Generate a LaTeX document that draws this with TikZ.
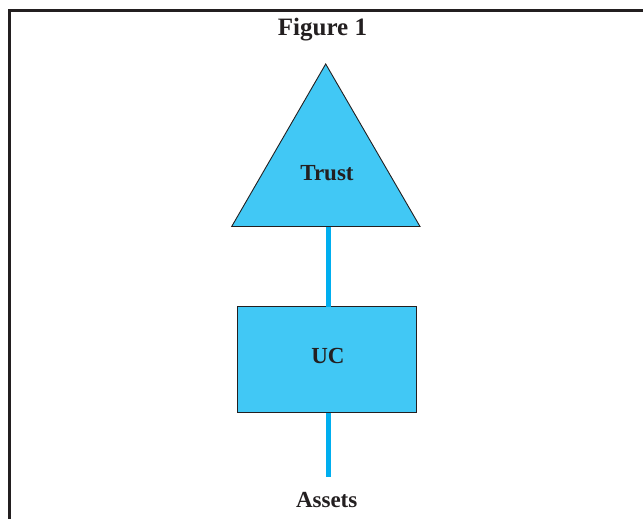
\documentclass[tikz,border=0pt]{standalone}
\usepackage{fontspec}
\setmainfont{Liberation Serif}
\definecolor{fillblue}{HTML}{41C8F5}
\definecolor{lineblue}{HTML}{00AEEF}
\definecolor{ink}{HTML}{231F20}
\begin{document}
\begin{tikzpicture}[x=1pt,y=-1pt,
  lbl/.style={text=ink,font=\bfseries\fontsize{23}{26}\selectfont,inner sep=0pt,anchor=base},
  shapebox/.style={draw=ink,line width=1.1pt,fill=fillblue},
  link/.style={draw=lineblue,line width=5pt}]
\useasboundingbox (0,0) rectangle (643,519);
% frame (cut off at right and bottom)
\draw[ink,line width=3pt] (9.5,519) -- (9.5,10.5) -- (643,10.5);
\node[lbl,font=\bfseries\fontsize{25}{28}\selectfont] (fig) at (322.5,36) {Figure 1};
% triangle
\coordinate (tA) at (325.7,64);
\coordinate (tL) at (231.7,226.5);
\coordinate (tR) at (420,226.5);
\coordinate (tbase) at (328.5,226.5);
\draw[shapebox,line width=0.9pt] (tA) -- (tL) -- (tR) -- cycle;
\node[lbl] (trust) at (327,180.7) {Trust};
% box
\node[shapebox,minimum width=179pt,minimum height=106pt,inner sep=0pt] (ucbox) at (327,359.7) {};
\node[lbl] (uc) at (328,363.3) {UC};
\coordinate (ucn) at (328.5,306.7);
\coordinate (ucs) at (328.5,412.7);
\coordinate (aend) at (328.5,477);
\node[lbl] (assets) at (326.7,507) {Assets};
% connectors
\draw[link] (tbase) -- (ucn);
\draw[link] (ucs) -- (aend);
\end{tikzpicture}
\end{document}
